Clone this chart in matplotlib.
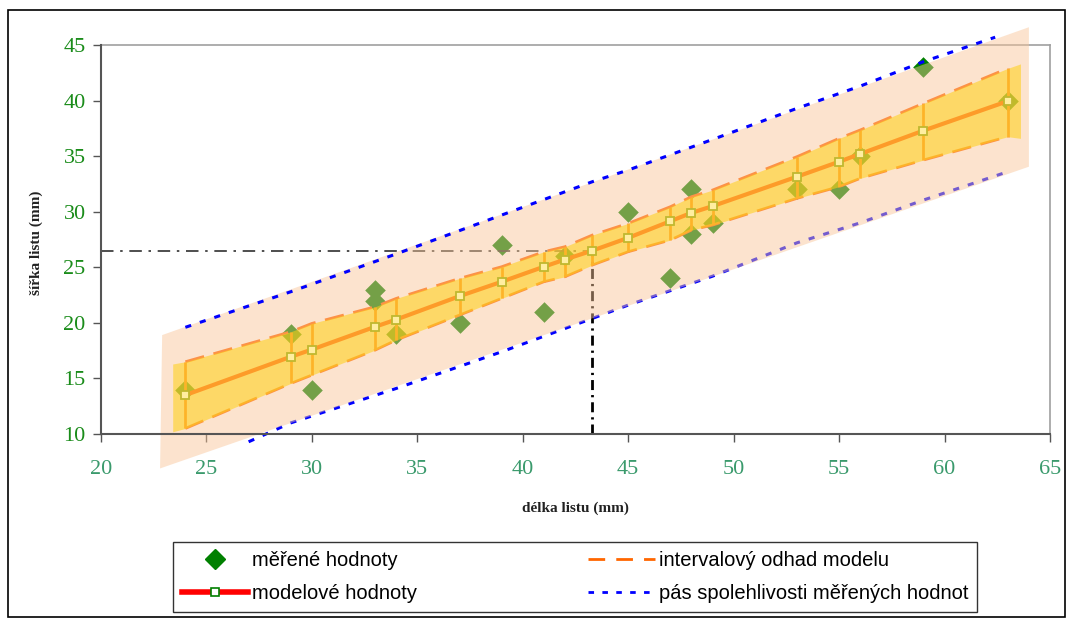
import matplotlib
matplotlib.use("Agg")
import matplotlib.pyplot as plt
from matplotlib.lines import Line2D
from matplotlib.patches import Rectangle

# measured points
x_meas = [24, 29, 30, 33, 33, 34, 37, 39, 41, 42, 45, 47, 48, 48, 49, 53, 55, 56, 59, 63]
y_meas = [14, 19, 14, 23, 22, 19, 20, 27, 21, 26, 30, 24, 32, 28, 29, 32, 32, 35, 43, 40]

# model values with interval estimate
x_mod = [24, 29, 30, 33, 34, 37, 39, 41, 42, 43.3, 45, 47, 48, 49, 53, 55, 56, 59, 63]
y_mod = [13.5, 16.95, 17.6, 19.65, 20.3, 22.4, 23.7, 25.05, 25.7, 26.5, 27.65, 29.15,
         29.9, 30.5, 33.15, 34.5, 35.2, 37.3, 39.95]
y_up = [16.5, 19.2, 19.95, 21.45, 22.2, 24.0, 25.05, 26.4, 26.85, 27.9, 28.95, 30.45,
        31.35, 31.95, 34.95, 36.6, 37.35, 39.75, 42.9]
y_lo = [10.5, 14.55, 15.3, 17.55, 18.45, 20.7, 22.2, 23.7, 24.15, 25.2, 26.4, 27.45,
        28.35, 28.8, 31.2, 32.25, 33.0, 34.65, 36.75]

# ends of the yellow area
gold_x0, gold_top0, gold_bot0 = 23.4, 16.3, 10.2
gold_x1, gold_top1, gold_bot1 = 63.6, 43.3, 36.6

# confidence band of measured values
x_band_up = [24, 29, 34, 39, 43.3, 45, 49, 53, 56, 59, 62.4]
y_band_up = [19.6, 22.8, 26.2, 29.7, 32.7, 33.75, 36.5, 39.3, 41.3, 43.5, 45.7]
x_band_lo = [27, 29, 34, 39, 43.3, 45, 49, 53, 56, 59, 63]
y_band_lo = [9.3, 11.0, 14.1, 17.4, 20.4, 21.6, 24.2, 27.2, 29.0, 31.05, 33.6]

# peach background polygon corners
peach_x = [22.9, 64.0, 64.0, 22.8]
peach_y = [18.9, 46.6, 34.05, 6.9]

# read-off point
x_read, y_read = 43.3, 26.5

xticks = [20, 25, 30, 35, 40, 45, 50, 55, 60, 65]
yticks = [10, 15, 20, 25, 30, 35, 40, 45]

serif = "Liberation Serif"

fig = plt.figure(figsize=(10.72, 6.21), dpi=100)
ax = fig.add_axes([101/1072, 1-434/621, 949/1072, 389/621])

# things below the coloured overlays
ax.scatter(x_meas, y_meas, marker="D", s=110, color="#008000", zorder=2, linewidths=0)
ax.plot([20, x_read], [y_read, y_read], color="#303030", lw=1.2,
        dashes=(7.5, 4, 1.5, 4), zorder=2)
ax.plot([x_read, x_read], [10, y_read], color="black", lw=2,
        dashes=(3.6, 1.8, 0.8, 1.8), zorder=2)
ax.plot(x_band_lo, y_band_lo, color="#0000FF", lw=2.2, dashes=(2, 3), zorder=2, clip_on=False)
ax.vlines(x_mod, y_lo, y_up, color="#FF6600", lw=2, zorder=3)
ax.plot(x_mod, y_up, color="#FF6600", lw=2, dashes=(7, 3.5), zorder=3)
ax.plot(x_mod, y_lo, color="#FF6600", lw=2, dashes=(7, 3.5), zorder=3)
ax.plot(x_mod, y_mod, color="#FF0000", lw=3, zorder=3)

# overlays
ax.fill(peach_x, peach_y, color=(249/255, 197/255, 152/255), alpha=0.47, lw=0,
        zorder=5, clip_on=False)
gx = [gold_x0] + x_mod + [gold_x1]
gt = [gold_top0] + y_up + [gold_top1]
gb = [gold_bot0] + y_lo + [gold_bot1]
ax.fill_between(gx, gb, gt, color=(1.0, 208/255, 18/255), alpha=0.55, lw=0, zorder=6)

# above overlays
ax.plot(x_band_up, y_band_up, color="#0000FF", lw=2.2, dashes=(2, 3), zorder=7, clip_on=False)
ax.plot(x_mod, y_mod, ls="none", marker="s", ms=6, mfc="#FFEEA0", mec="#C0B830",
        mew=1.3, zorder=8)

ax.set_xlim(20, 65)
ax.set_ylim(10, 45)
ax.set_xticks(xticks)
ax.set_yticks(yticks)
ax.set_xticklabels([str(t) for t in xticks], fontfamily=serif, fontsize=16, color="#3A9A6C")
ax.set_yticklabels([str(t) for t in yticks], fontfamily=serif, fontsize=16, color="#1A8C1A")
ax.tick_params(axis="x", direction="out", length=6, width=1, pad=13, colors="#555555",
               labelcolor="#3A9A6C")
ax.tick_params(axis="y", direction="out", length=6, width=1, pad=5, colors="#555555",
               labelcolor="#1A8C1A")
for s in ["left", "bottom"]:
    ax.spines[s].set_color("#555555")
    ax.spines[s].set_linewidth(1.5)
    ax.spines[s].set_zorder(9)
for s in ["top", "right"]:
    ax.spines[s].set_color("#A0A0A0")
    ax.spines[s].set_linewidth(1.2)

fig.text(575/1072, 1-508/621, "délka listu (mm)", ha="center", va="center",
         fontfamily=serif, fontsize=11, fontweight="bold", color="#222222")
fig.text(36/1072, 1-243/621, "šířka listu (mm)", ha="center", va="center", rotation=90,
         fontfamily=serif, fontsize=11, fontweight="bold", color="#222222")

# legend
h1 = Line2D([], [], ls="none", marker="D", ms=10, color="#008000")
h2 = Line2D([], [], color="#FF0000", lw=4, marker="s", ms=6, mfc="white", mec="#008000", mew=1.2)
h3 = Line2D([], [], color="#FF6600", lw=2, dashes=(6, 4))
h4 = Line2D([], [], color="#0000FF", lw=2, dashes=(2, 3))
leg = fig.legend([h1, h2, h3, h4],
                 ["měřené hodnoty", "modelové hodnoty",
                  "intervalový odhad modelu", "pás spolehlivosti měřených hodnot"],
                 ncol=2, loc="center", bbox_to_anchor=(575/1072, 1-577/621),
                 prop={"family": "Liberation Sans", "size": 14.5},
                 frameon=True, fancybox=False, edgecolor="black", borderpad=0.45,
                 handlelength=3.3, columnspacing=8.5, labelspacing=0.7, handletextpad=0.2)
leg.get_frame().set_linewidth(1.0)

# outer border
fig.patches.append(Rectangle((8/1072, 4/621), 1057/1072, 607/621, transform=fig.transFigure,
                             fill=False, edgecolor="black", lw=1.2))

fig.savefig("out.png", dpi=100)
